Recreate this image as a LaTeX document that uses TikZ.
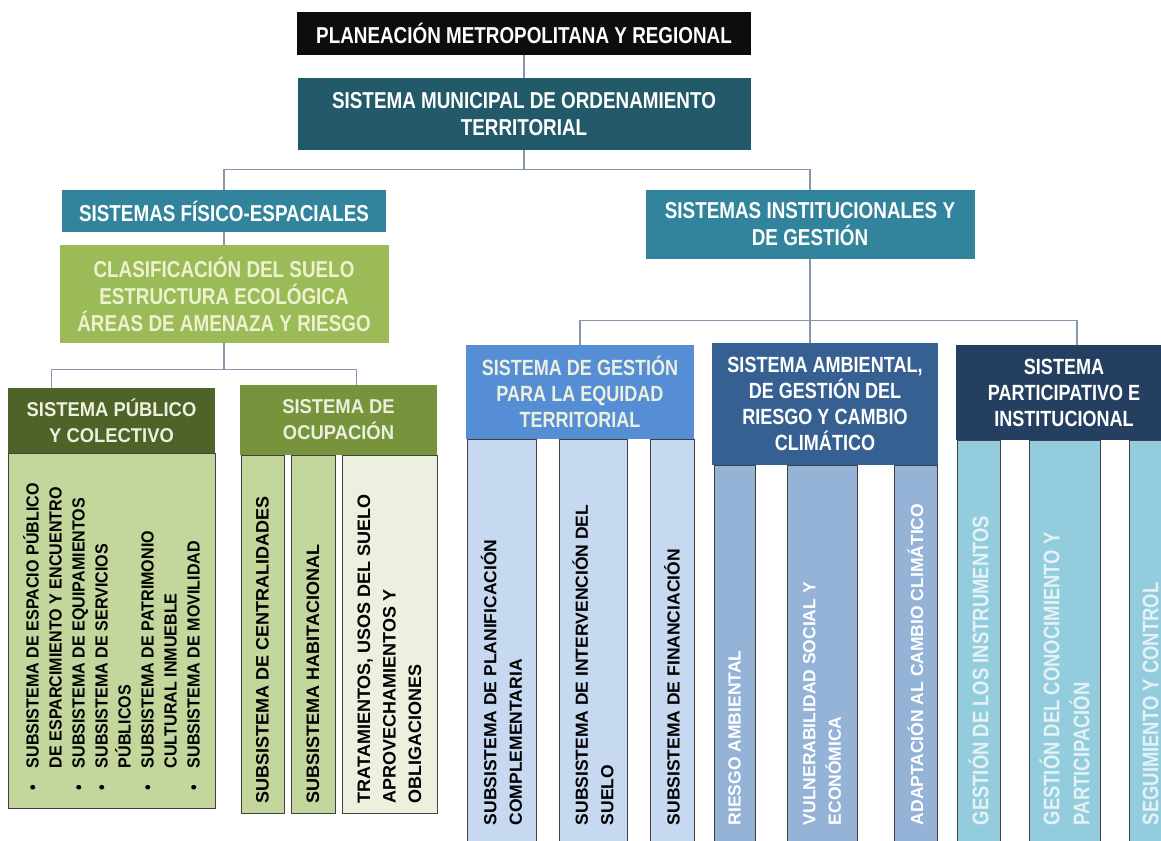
\documentclass[tikz,border=0pt]{standalone}
\usepackage{fontspec}
\setmainfont{Liberation Sans}
\newfontfamily\hdfont[FakeStretch=0.82]{Liberation Sans}
\newfontfamily\listfont[FakeStretch=0.92]{Liberation Sans}

\definecolor{cblack}{HTML}{0D0D0D}
\definecolor{cmuni}{HTML}{235A6A}
\definecolor{cteal}{HTML}{31849B}
\definecolor{colive}{HTML}{9BBB59}
\definecolor{cdkolive}{HTML}{4F6228}
\definecolor{cmdolive}{HTML}{77933C}
\definecolor{cltolive}{HTML}{C3D69B}
\definecolor{cpale}{HTML}{EBF1DE}
\definecolor{ccream}{HTML}{EEF1CD}
\definecolor{cblue}{HTML}{558ED5}
\definecolor{cltblue}{HTML}{C6D9F1}
\definecolor{csteel}{HTML}{376092}
\definecolor{cmdsteel}{HTML}{95B3D7}
\definecolor{cnavy}{HTML}{243F60}
\definecolor{caqua}{HTML}{93CDDD}
\definecolor{cice}{HTML}{E4F2F6}
\definecolor{clink}{HTML}{8496B0}
\definecolor{cframe}{HTML}{404040}

\tikzset{
	hdr/.style={inner sep=0pt, align=center, text=white,
		font=\hdfont\bfseries\fontsize{22}{26}\selectfont},
	tophdr/.style={hdr, font=\hdfont\bfseries\fontsize{23}{27}\selectfont},
	greenhdr/.style={hdr, text=cpale, font=\listfont\bfseries\fontsize{20}{26}\selectfont},
	colbox/.style={draw=cframe, line width=0.9pt, inner sep=0pt},
	coltext/.style={rotate=90, anchor=west, inner sep=0pt, align=left,
		font=\bfseries\fontsize{17.5}{25.5}\selectfont},
	link/.style={draw=clink, line width=1.3pt},
}

\begin{document}
\begin{tikzpicture}[x=1pt, y=-1pt]
	\useasboundingbox (0,0) rectangle (1161,840);
	\clip (0,0) rectangle (1161,840);

	% upper levels
	\node[tophdr, fill=cblack, minimum width=454, minimum height=43] (plan) at (524,33.5)
		{PLANEACIÓN METROPOLITANA Y REGIONAL};
	\node[tophdr, fill=cmuni, minimum width=453, minimum height=72] (muni) at (524,114)
		{SISTEMA MUNICIPAL DE ORDENAMIENTO\\TERRITORIAL};
	\node[tophdr, fill=cteal, minimum width=324, minimum height=42] (fisico) at (224,211)
		{SISTEMAS FÍSICO-ESPACIALES};
	\node[tophdr, fill=cteal, minimum width=329, minimum height=69] (inst) at (810,224.5)
		{SISTEMAS INSTITUCIONALES Y\\DE GESTIÓN};
	\node[tophdr, fill=colive, text=ccream, minimum width=329, minimum height=98] (clasif) at (224,294)
		{CLASIFICACIÓN DEL SUELO\\ESTRUCTURA ECOLÓGICA\\ÁREAS DE AMENAZA Y RIESGO};

	% physical-spatial branch
	\node[greenhdr, fill=cdkolive, minimum width=207, minimum height=65] (pubhead) at (111.5,420.5)
		{SISTEMA PÚBLICO\\Y COLECTIVO};
	\node[colbox, fill=cltolive, minimum width=207, minimum height=355] (pubbody) at (111.5,630.5) {};
	\node[coltext, font=\listfont\bfseries\fontsize{17.5}{23}\selectfont] (publist) at ([yshift=18pt]pubbody.south)
		{\makebox[22pt][l]{•}SUBSISTEMA DE ESPACIO PÚBLICO\\
		\hspace*{22pt}DE ESPARCIMIENTO Y ENCUENTRO\\
		\makebox[22pt][l]{•}SUBSISTEMA DE EQUIPAMIENTOS\\
		\makebox[22pt][l]{•}SUBSISTEMA DE SERVICIOS\\
		\hspace*{22pt}PÚBLICOS\\
		\makebox[22pt][l]{•}SUBSISTEMA DE PATRIMONIO\\
		\hspace*{22pt}CULTURAL INMUEBLE\\
		\makebox[22pt][l]{•}SUBSISTEMA DE MOVILIDAD};

	\node[greenhdr, fill=cmdolive, minimum width=197, minimum height=70] (ocuphead) at (338.5,420)
		{SISTEMA DE\\OCUPACIÓN};
	\node[colbox, fill=cltolive, minimum width=43, minimum height=358] (ocA) at (262.5,634) {};
	\node[colbox, fill=cltolive, minimum width=44, minimum height=358] (ocB) at (313,634) {};
	\node[colbox, fill=cpale, minimum width=95, minimum height=358] (ocC) at (389.5,634) {};
	\node[coltext, font=\bfseries\fontsize{18}{25.5}\selectfont] (ocAt) at ([yshift=10pt]ocA.south) {SUBSISTEMA DE CENTRALIDADES};
	\node[coltext, font=\bfseries\fontsize{18}{25.5}\selectfont] (ocBt) at ([yshift=10pt]ocB.south) {SUBSISTEMA HABITACIONAL};
	\node[coltext, font=\bfseries\fontsize{18}{25.5}\selectfont] (ocCt) at ([yshift=10pt]ocC.south)
		{TRATAMIENTOS, USOS DEL SUELO\\APROVECHAMIENTOS Y\\OBLIGACIONES};

	% institutional branch
	\node[hdr, fill=cblue, text=cpale, minimum width=228, minimum height=94] (gesthead) at (580,392)
		{SISTEMA DE GESTIÓN\\PARA LA EQUIDAD\\TERRITORIAL};
	\node[colbox, fill=cltblue, minimum width=69, minimum height=409] (gA) at (501.5,643.5) {};
	\node[colbox, fill=cltblue, minimum width=68, minimum height=409] (gB) at (593,643.5) {};
	\node[colbox, fill=cltblue, minimum width=44, minimum height=409] (gC) at (672,643.5) {};
	\node[coltext] (gAt) at ([yshift=23pt]gA.south) {SUBSISTEMA DE PLANIFICACIÓN\\COMPLEMENTARIA};
	\node[coltext] (gBt) at ([yshift=23pt]gB.south) {SUBSISTEMA DE INTERVENCIÓN DEL\\SUELO};
	\node[coltext] (gCt) at ([yshift=23pt]gC.south) {SUBSISTEMA DE FINANCIACIÓN};

	\node[hdr, fill=csteel, minimum width=226, minimum height=122] (ambhead) at (825,404)
		{SISTEMA AMBIENTAL,\\DE GESTIÓN DEL\\RIESGO Y CAMBIO\\CLIMÁTICO};
	\node[colbox, fill=cmdsteel, minimum width=41, minimum height=383] (aA) at (734.5,656.5) {};
	\node[colbox, fill=cmdsteel, minimum width=70, minimum height=383] (aB) at (822,656.5) {};
	\node[colbox, fill=cmdsteel, minimum width=43, minimum height=383] (aC) at (915.5,656.5) {};
	\node[coltext, text=white] (aAt) at ([yshift=23pt]aA.south) {RIESGO AMBIENTAL};
	\node[coltext, text=white] (aBt) at ([yshift=23pt]aB.south) {VULNERABILIDAD SOCIAL Y\\ECONÓMICA};
	\node[coltext, text=white] (aCt) at ([yshift=23pt]aC.south) {ADAPTACIÓN AL CAMBIO CLIMÁTICO};

	\node[hdr, fill=cnavy, minimum width=216, minimum height=95] (parthead) at (1064,392.5)
		{SISTEMA\\PARTICIPATIVO E\\INSTITUCIONAL};
	\node[colbox, fill=caqua, minimum width=43, minimum height=408] (pA) at (978.5,644) {};
	\node[colbox, fill=caqua, minimum width=71, minimum height=408] (pB) at (1064.5,644) {};
	\node[colbox, fill=caqua, minimum width=43, minimum height=408] (pC) at (1150.5,644) {};
	\node[coltext, text=cice, font=\hdfont\bfseries\fontsize{22.5}{30}\selectfont] (pAt) at ([yshift=23pt]pA.south) {GESTIÓN DE LOS INSTRUMENTOS};
	\node[coltext, text=cice, font=\hdfont\bfseries\fontsize{22.5}{30}\selectfont] (pBt) at ([yshift=23pt]pB.south) {GESTIÓN DEL CONOCIMIENTO Y\\PARTICIPACIÓN};
	\node[coltext, text=cice, font=\hdfont\bfseries\fontsize{22.5}{30}\selectfont] (pCt) at ([yshift=23pt]pC.south) {SEGUIMIENTO Y CONTROL};

	% connectors
	\draw[link] (plan.south) -- (muni.north);
	\draw[link] (muni.south) -- ++(0,19) coordinate (hubA);
	\draw[link] (fisico.north) |- (hubA) -| (inst.north);
	\draw[link] (fisico.south) -- (clasif.north);
	\draw[link] (clasif.south) -- ++(0,26) coordinate (hubB);
	\draw[link] ([xshift=-60pt]pubhead.north) |- (hubB) -| ([xshift=18pt]ocuphead.north);
	\draw[link] (inst.south) -- (inst.south |- ambhead.north);
	\path (inst.south) ++(0,61) coordinate (hubC);
	\draw[link] (gesthead.north) |- (hubC) -| ([xshift=13pt]parthead.north);
\end{tikzpicture}
\end{document}
